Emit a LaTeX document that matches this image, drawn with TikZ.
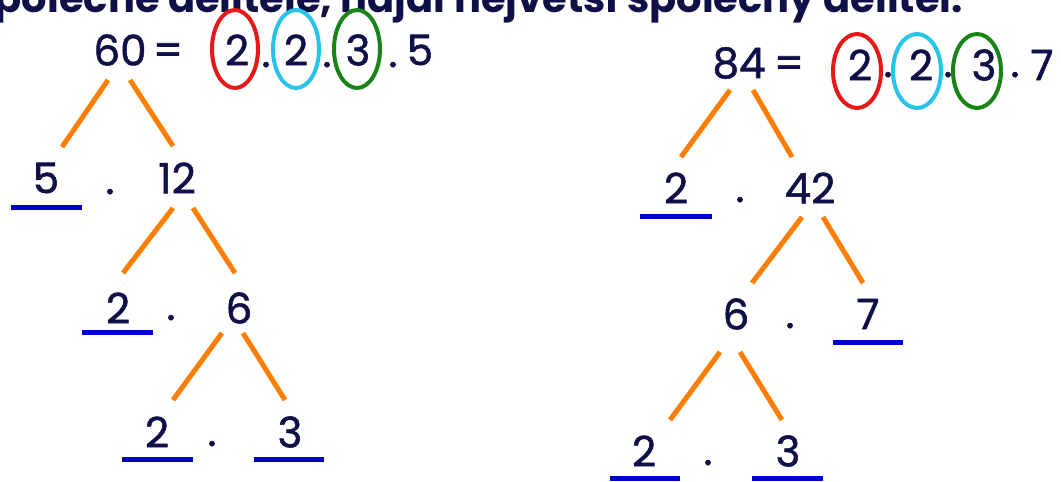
\documentclass[tikz,border=0pt]{standalone}
\usepackage{fontspec}
\setmainfont{Poppins}
\newfontfamily\numfont{Poppins}[FakeBold=1.3]
\usetikzlibrary{calc}
\definecolor{navy}{RGB}{16,16,72}
\definecolor{brorange}{RGB}{255,125,0}
\definecolor{ulblue}{RGB}{0,0,205}
\definecolor{cred}{RGB}{232,24,24}
\definecolor{ccyan}{RGB}{40,195,232}
\definecolor{cgreen}{RGB}{24,132,24}
\begin{document}
\begin{tikzpicture}[x=1pt,y=-1pt,
  num/.style={text=navy,font=\numfont\fontsize{42}{42}\selectfont,inner sep=0pt,anchor=center},
  dotn/.style={text=navy,font=\numfont\fontsize{42}{42}\selectfont,inner sep=0pt,anchor=base},
  branch/.style={draw=brorange,line width=5pt},
  uline/.style={draw=ulblue,line width=5pt},
  ring/.style={draw=#1,line width=4pt}]
\useasboundingbox (0,0) rectangle (1061,482);
\clip (0,0) rectangle (1061,482);
\fill[white] (0,0) rectangle (1061,482);
% title (cut off at the top, as in the source)
\node[anchor=base east,inner sep=0pt,text=navy,font=\bfseries\fontsize{40}{40}\selectfont] (title) at (963,12) {společné dělitele, najdi největší společný dělitel.};
% ---------- left: 60 ----------
\node[num] (a60) at (120,50) {60};
\node[num] (aeq) at (168,54) {=};
\node[num] (a2a) at (237,50) {2};
\node[dotn] (ad1) at (266,67) {.};
\node[num] (a2b) at (296,50) {2};
\node[dotn] (ad2) at (327,67) {.};
\node[num] (a3a) at (358,50) {3};
\node[dotn] (ad3) at (393,67) {.};
\node[num] (a5a) at (420,50) {5};
\draw[ring=cred] ($(a2a)+(-2,-1)$) ellipse [x radius=23,y radius=39];
\draw[ring=ccyan] ($(a2b)+(0,-1)$) ellipse [x radius=23,y radius=39];
\draw[ring=cgreen] ($(a3a)+(-1,-1)$) ellipse [x radius=23,y radius=39];
\node[num] (a5) at (46,178) {5};
\node[dotn] (ad4) at (110,194) {.};
\node[num] (a12) at (177,178) {12};
\node[num] (a2c) at (118,308) {2};
\node[dotn] (ad5) at (171,320) {.};
\node[num] (a6) at (239,308) {6};
\node[num] (a2d) at (157,432) {2};
\node[dotn] (ad6) at (212,446) {.};
\node[num] (a3b) at (290,432) {3};
\draw[branch] ($(a60)+(-12,30)$) -- ($(a5)+(16,-31)$);
\draw[branch] ($(a60)+(10,30)$) -- ($(a12)+(-4,-32)$);
\draw[branch] ($(a12)+(-4,30)$) -- ($(a2c)+(5,-35)$);
\draw[branch] ($(a12)+(16,30)$) -- ($(a6)+(-4,-35)$);
\draw[branch] ($(a6)+(-17,25)$) -- ($(a2d)+(16,-32)$);
\draw[branch] ($(a6)+(4,25)$) -- ($(a3b)+(-5,-32)$);
\draw[uline] ($(a5)+(-35,29)$) -- ($(a5)+(36,29)$);
\draw[uline] ($(a2c)+(-36,24)$) -- ($(a2c)+(35,24)$);
\draw[uline] ($(a2d)+(-35,27)$) -- ($(a2d)+(36,27)$);
\draw[uline] ($(a3b)+(-36,27)$) -- ($(a3b)+(34,27)$);
% ---------- right: 84 ----------
\node[num] (b84) at (739,63) {84};
\node[num] (beq) at (789,67) {=};
\node[num] (b2a) at (860,65) {2};
\node[dotn] (bd1) at (888,77) {.};
\node[num] (b2b) at (921,65) {2};
\node[dotn] (bd2) at (948,77) {.};
\node[num] (b3a) at (984,65) {3};
\node[dotn] (bd3) at (1015,77) {.};
\node[num] (b7a) at (1042,65) {7};
\draw[ring=cred] ($(b2a)+(-3,6)$) ellipse [x radius=24,y radius=37];
\draw[ring=ccyan] ($(b2b)+(-4,6)$) ellipse [x radius=24,y radius=37];
\draw[ring=cgreen] ($(b3a)+(-7,6)$) ellipse [x radius=24,y radius=37];
\node[num] (b2c) at (676,188) {2};
\node[dotn] (bd4) at (740,202) {.};
\node[num] (b42) at (810,188) {42};
\node[num] (b6) at (736,314) {6};
\node[dotn] (bd5) at (790,328) {.};
\node[num] (b7) at (868,314) {7};
\node[num] (b2d) at (644,451) {2};
\node[dotn] (bd6) at (708,465) {.};
\node[num] (b3b) at (788,451) {3};
\draw[branch] ($(b84)+(-9,27)$) -- ($(b2c)+(5,-31)$);
\draw[branch] ($(b84)+(14,27)$) -- ($(b42)+(-18,-31)$);
\draw[branch] ($(b42)+(-8,29)$) -- ($(b6)+(16,-31)$);
\draw[branch] ($(b42)+(13,29)$) -- ($(b7)+(-5,-31)$);
\draw[branch] ($(b6)+(-16,38)$) -- ($(b2d)+(26,-31)$);
\draw[branch] ($(b6)+(4,38)$) -- ($(b3b)+(-6,-31)$);
\draw[uline] ($(b2c)+(-36,28)$) -- ($(b2c)+(36,28)$);
\draw[uline] ($(b7)+(-35,28)$) -- ($(b7)+(35,28)$);
\draw[uline] ($(b2d)+(-34,27)$) -- ($(b2d)+(36,27)$);
\draw[uline] ($(b3b)+(-36,27)$) -- ($(b3b)+(35,27)$);
\end{tikzpicture}
\end{document}
